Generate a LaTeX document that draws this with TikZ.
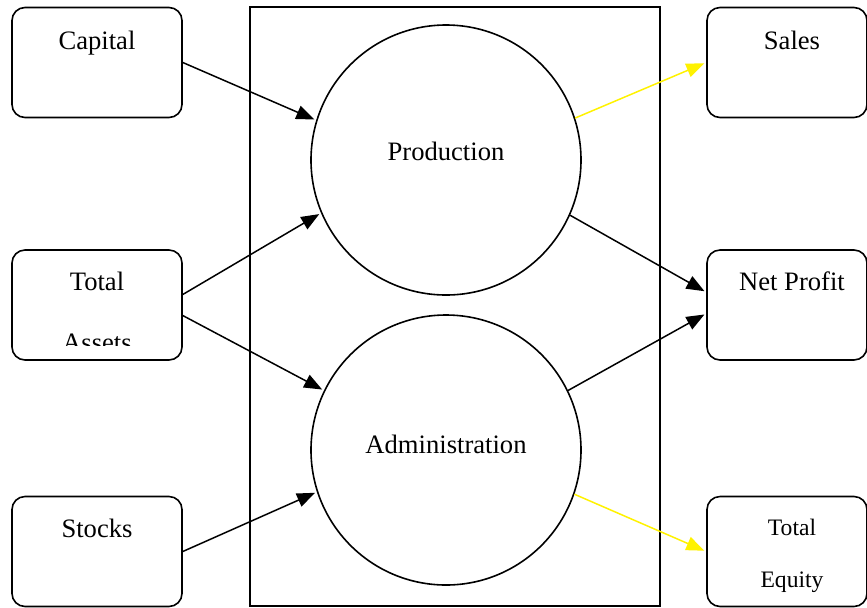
\documentclass[tikz,border=0pt]{standalone}
\usepackage{fontspec}
\setmainfont{Liberation Serif}
\usetikzlibrary{arrows.meta}

\begin{document}
\begin{tikzpicture}[x=0.5pt,y=-0.5pt,
  box/.style={draw,line width=0.8pt,rounded corners=6.5pt,minimum width=85pt,minimum height=55pt,inner sep=0pt},
  unit/.style={draw,circle,line width=0.8pt,minimum size=135pt,inner sep=0pt},
  txt/.style={anchor=base,inner sep=0pt,font=\fontsize{13.3}{16}\selectfont},
  arr/.style={line width=0.75pt,shorten >=1pt,-{Triangle[length=9pt,width=7pt]}},
  yarr/.style={arr,yellow}]
\useasboundingbox (0,0) rectangle (867,607);
% firm boundary and its two units
\draw[line width=0.8pt] (250,7) rectangle (660,606);
\node[unit] (prod) at (446,160) {};
\node[unit] (admin) at (446,450) {};
\node[txt] (prodt) at (446,160) {Production};
\node[txt] (admint) at (446,453) {Administration};
% inputs
\node[box] (cap) at (97,62.5) {};
\node[box] (assets) at (97,305) {};
\node[box] (stocks) at (97,551.5) {};
\node[txt] (capt) at (97,49) {Capital};
\node[txt] (assetst) at (97,290) {Total};
\begin{scope}
\clip (14,252) rectangle (180,345);
\node[txt] (assetst2) at (97,351) {Assets};
\end{scope}
\node[txt] (stockst) at (97,537) {Stocks};
% outputs
\node[box,minimum width=80pt] (sales) at (787,62.5) {};
\node[box,minimum width=80pt] (profit) at (787,305) {};
\node[box,minimum width=80pt] (equity) at (787,551.5) {};
\node[txt] (salest) at (792,49) {Sales};
\node[txt] (profitt) at (792,290) {Net Profit};
\node[txt,font=\fontsize{11.8}{14}\selectfont] (equityt) at (792,535) {Total};
\node[txt,font=\fontsize{11.8}{14}\selectfont] (equityt2) at (792,587) {Equity};
% flows
\draw[arr] (cap.east) -- (prod.163);
\draw[arr] (assets.7) -- (prod.203);
\draw[arr] (assets.-7) -- (admin.154);
\draw[arr] (stocks.east) -- (admin.198);
\draw[arr] (prod.336) -- (profit.171.5);
\draw[arr] (admin.26) -- (profit.186);
\draw[yarr] (prod.18) -- (sales.west);
\draw[yarr] (admin.-19) -- (equity.west);
\end{tikzpicture}
\end{document}
